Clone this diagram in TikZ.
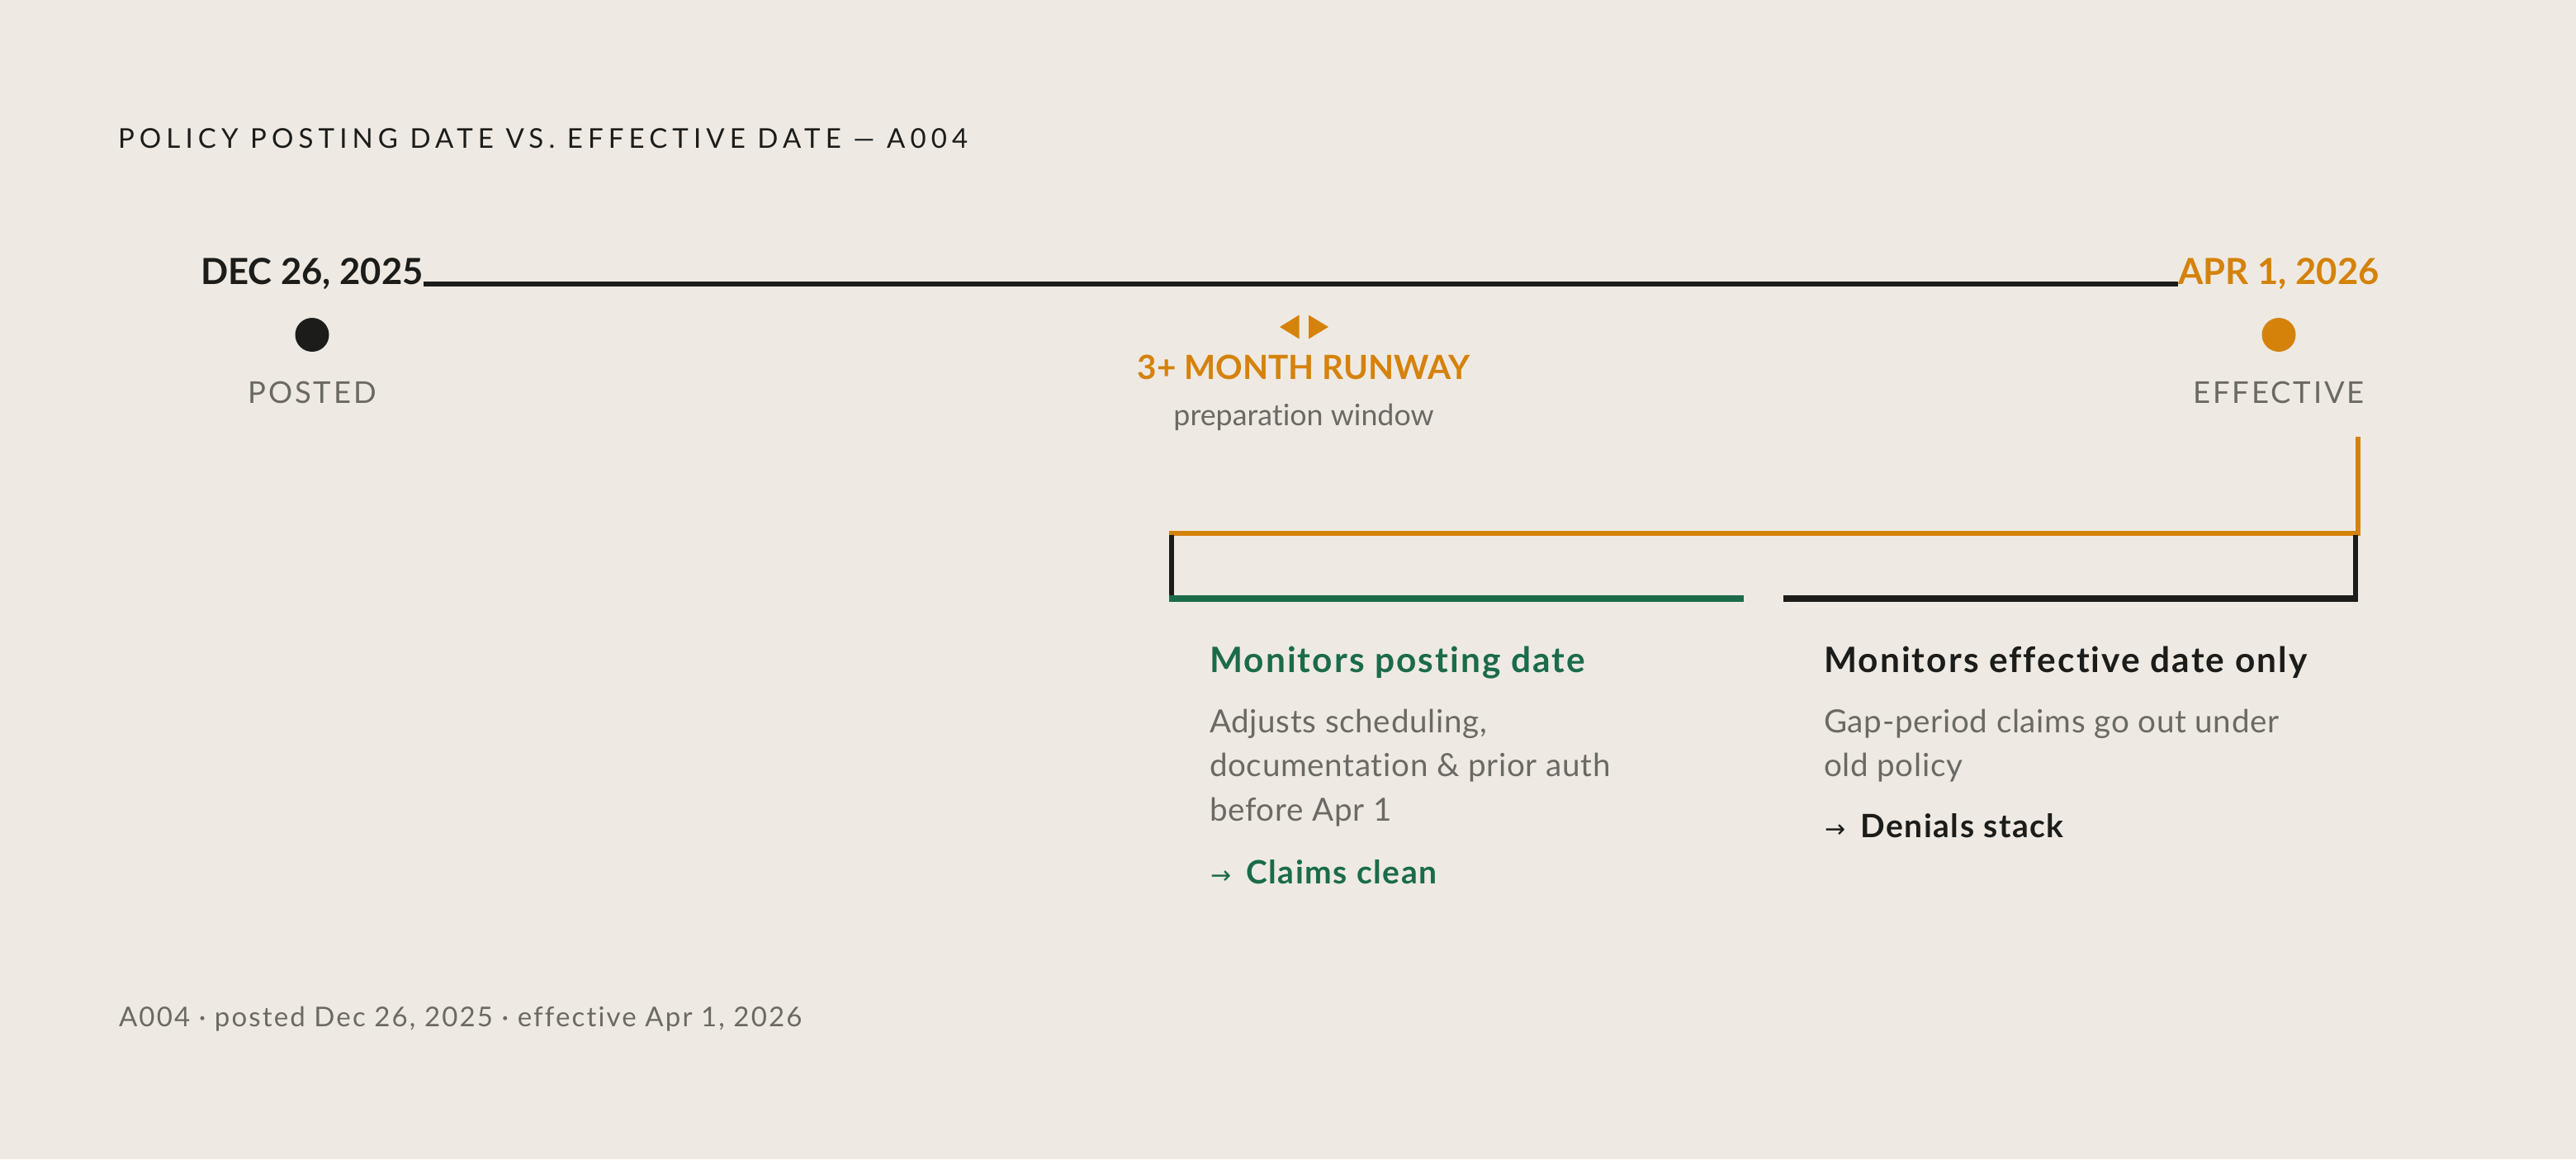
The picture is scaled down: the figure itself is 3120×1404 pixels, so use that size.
\documentclass[tikz,border=0pt]{standalone}
\usepackage{fontspec}
\setmainfont{Lato}[Ligatures={NoCommon}]
\newfontfamily\arrowfont{DejaVu Sans}
\definecolor{bg}{HTML}{EEEAE3}
\definecolor{ink}{HTML}{1C1C1A}
\definecolor{amber}{HTML}{D5820B}
\definecolor{pine}{HTML}{1B6B4A}
\definecolor{muted}{HTML}{6B6964}
\newcommand\fsz[2]{\fontsize{#1}{#2}\selectfont}
\tikzset{
  every node/.style={inner sep=0pt, outer sep=0pt},
  titletxt/.style={anchor=base west, text=ink, font=\fsz{16.5}{20}\addfontfeature{LetterSpace=18.5}},
  datetxt/.style={anchor=base, font=\bfseries\fsz{21.8}{25}},
  markertxt/.style={anchor=base, text=muted, font=\fsz{18.2}{22}\addfontfeature{LetterSpace=8}},
  dotnode/.style={circle, minimum size=20.5pt},
  headtxt/.style={anchor=base west, font=\bfseries\fsz{21.2}{25}\addfontfeature{LetterSpace=5}},
  bodytxt/.style={anchor=base west, text=muted, font=\fsz{19.3}{22}\addfontfeature{LetterSpace=1.8}},
  outtxt/.style={anchor=base west, font=\bfseries\fsz{19.5}{22}\addfontfeature{LetterSpace=4}},
  timeline/.style={draw=ink, line width=3pt},
  bracket/.style={line width=3pt},
  bar/.style={line width=4pt},
}
\begin{document}
\begin{tikzpicture}[x=0.5pt,y=-0.5pt]
\fill[bg] (0,0) rectangle (3120,1404);
\useasboundingbox (0,0) rectangle (3120,1404);

% title
\node[titletxt] (title) at (143,179) {POLICY POSTING DATE VS. EFFECTIVE DATE — A004};

% timeline
\node[datetxt, text=ink] (dec) at (378,344) {DEC 26, 2025};
\node[datetxt, text=amber] (apr) at (2760,344) {APR 1, 2026};
\draw[timeline] (dec.base east) -- (apr.base west);

\node[dotnode, fill=ink] (dotposted) at (378,405.5) {};
\node[dotnode, fill=amber] (doteff) at (2760,405.5) {};
\node[markertxt] (posted) at (378,488) {POSTED};
\node[markertxt] (effective) at (2760,488) {EFFECTIVE};

% runway marker
\fill[amber] (1550,396) -- (1573.5,381.5) -- (1573.5,410.5) -- cycle;
\fill[amber] (1585,381.5) -- (1585,410.5) -- (1609,396) -- cycle;
\node[anchor=base, text=amber, font=\bfseries\fsz{20.2}{25}] (runway) at (1579,459) {3+ MONTH RUNWAY};
\node[anchor=base, text=muted, font=\fsz{17.9}{22}] (prep) at (1579,515) {preparation window};

% brackets
\coordinate (oTop) at (2856,529);
\coordinate (oCorner) at (2856,645.5);
\coordinate (oLeft) at (1416,645.5);
\draw[bracket, draw=amber, miter limit=10] (oTop) -- (oCorner) -- (oLeft);
\coordinate (bLtop) at (1419,648);
\coordinate (bLbot) at (1419,721);
\coordinate (bRtop) at (2853,648);
\coordinate (bRbot) at (2853,721);
\draw[bracket, draw=ink] (bLtop) -- (bLbot);
\draw[bracket, draw=ink] (bRtop) -- (bRbot);
\coordinate (gA) at (1416,725);
\coordinate (gB) at (2112,725);
\coordinate (kA) at (2160,725);
\coordinate (kB) at (2856,725);
\draw[bar, draw=pine] (gA) -- (gB);
\draw[bar, draw=ink] (kA) -- (kB);

% left column
\node[headtxt, text=pine] (lhead) at (1465,814) {Monitors posting date};
\node[bodytxt] (lb1) at (1465,887) {Adjusts scheduling,};
\node[bodytxt] (lb2) at (1465,940) {documentation \& prior auth};
\node[bodytxt] (lb3) at (1465,994) {before Apr 1};
\node[outtxt, text=pine] (lout) at (1466,1070) {{\arrowfont\mdseries\fsz{15}{20}→}\hspace{9pt}Claims clean};

% right column
\node[headtxt, text=ink] (rhead) at (2209,814) {Monitors effective date only};
\node[bodytxt] (rb1) at (2209,887) {Gap-period claims go out under};
\node[bodytxt] (rb2) at (2209,940) {old policy};
\node[outtxt, text=ink] (rout) at (2210,1014) {{\arrowfont\mdseries\fsz{15}{20}→}\hspace{9pt}Denials stack};

% footer
\node[anchor=base west, text=muted, font=\fsz{16.5}{20}\addfontfeature{LetterSpace=6.5}] (footer) at (144,1243) {A004 · posted Dec 26, 2025 · effective Apr 1, 2026};
\end{tikzpicture}
\end{document}
